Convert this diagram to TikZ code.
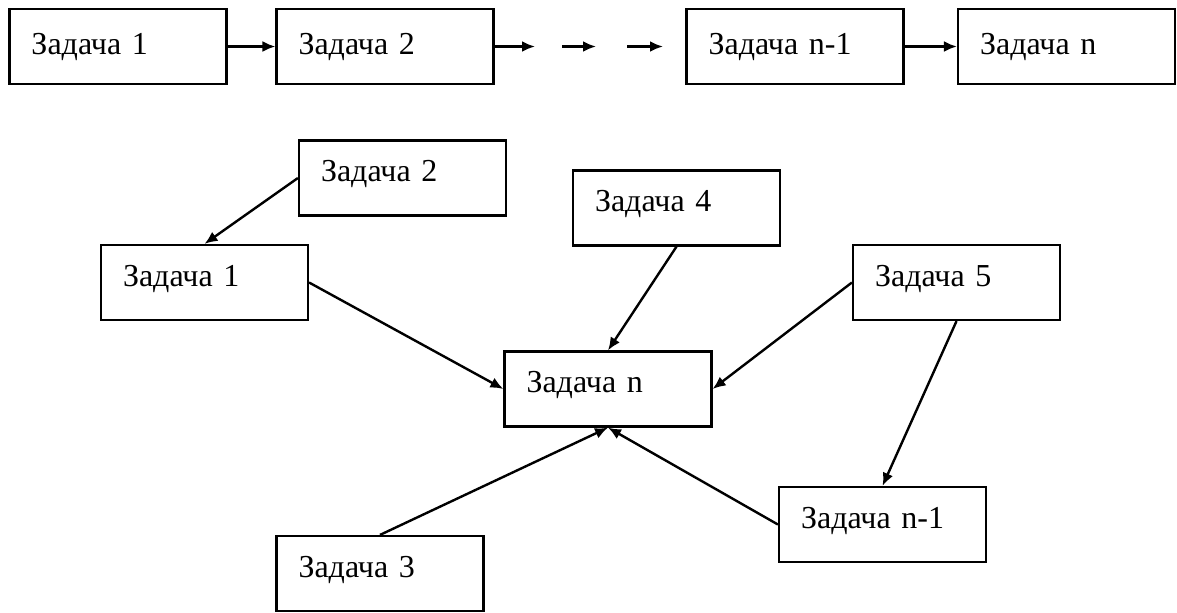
\documentclass[tikz,border=0pt]{standalone}
\usepackage{fontspec}
\setmainfont{Liberation Serif}
\usetikzlibrary{arrows.meta}
\tikzstyle{task}=[draw,rectangle,line width=1.1pt,inner xsep=11pt,inner ysep=0pt,text width=81.5pt,align=left,minimum height=37.5pt,text height=11pt,text depth=7.5pt,font=\fontsize{16}{18}\selectfont]
\tikzstyle{chaintask}=[task,text width=86.5pt,text depth=3.5pt]
\tikzstyle{link}=[-{Latex[length=6.5pt,width=5.5pt]},line width=1.2pt]
\newcommand{\newtask}[4][task]{% Syntax: [style] {name} {x,y in px} {text}
	\node[#1] (#2) at (#3) {#4};
}

\begin{document}
\begin{tikzpicture}[x=0.5pt,y=-0.5pt]
	\useasboundingbox (0,0) rectangle (1177,612);
	% sequential chain
	\newtask[chaintask]{c1}{118,46.5}{Задача 1}
	\newtask[chaintask]{c2}{385,46.5}{Задача 2}
	\newtask[chaintask]{cm}{795,46.5}{Задача n-1}
	\newtask[chaintask]{cn}{1066.5,46.5}{Задача n}
	\coordinate (d1) at (535,46.5);
	\coordinate (d2) at (562,46.5);
	\coordinate (d3) at (596,46.5);
	\coordinate (d4) at (627,46.5);
	\coordinate (d5) at (663,46.5);
	\draw[link] (c1) -- (c2);
	\draw[link] (c2) -- (d1);
	\draw[link] (d2) -- (d3);
	\draw[link] (d4) -- (d5);
	\draw[link] (cm) -- (cn);
	% tree
	\newtask{t2}{402.5,178}{Задача 2}
	\newtask{t1}{204.5,282.5}{Задача 1}
	\newtask{t4}{676.5,208}{Задача 4}
	\newtask{t5}{956.5,282.5}{Задача 5}
	\newtask{tn}{608,389}{Задача n}
	\newtask{tm}{882.5,524.5}{Задача n-1}
	\newtask{t3}{380,573.5}{Задача 3}
	\draw[link] (t2.west) -- (t1.north);
	\draw[link] (t1.east) -- (tn.west);
	\draw[link] (t4.south) -- (tn.north);
	\draw[link] (t5.west) -- (tn.east);
	\draw[link] (t5.south) -- (tm.north);
	\draw[link] (t3.north) -- (tn.south);
	\draw[link] (tm.west) -- (tn.south);
\end{tikzpicture}
\end{document}
